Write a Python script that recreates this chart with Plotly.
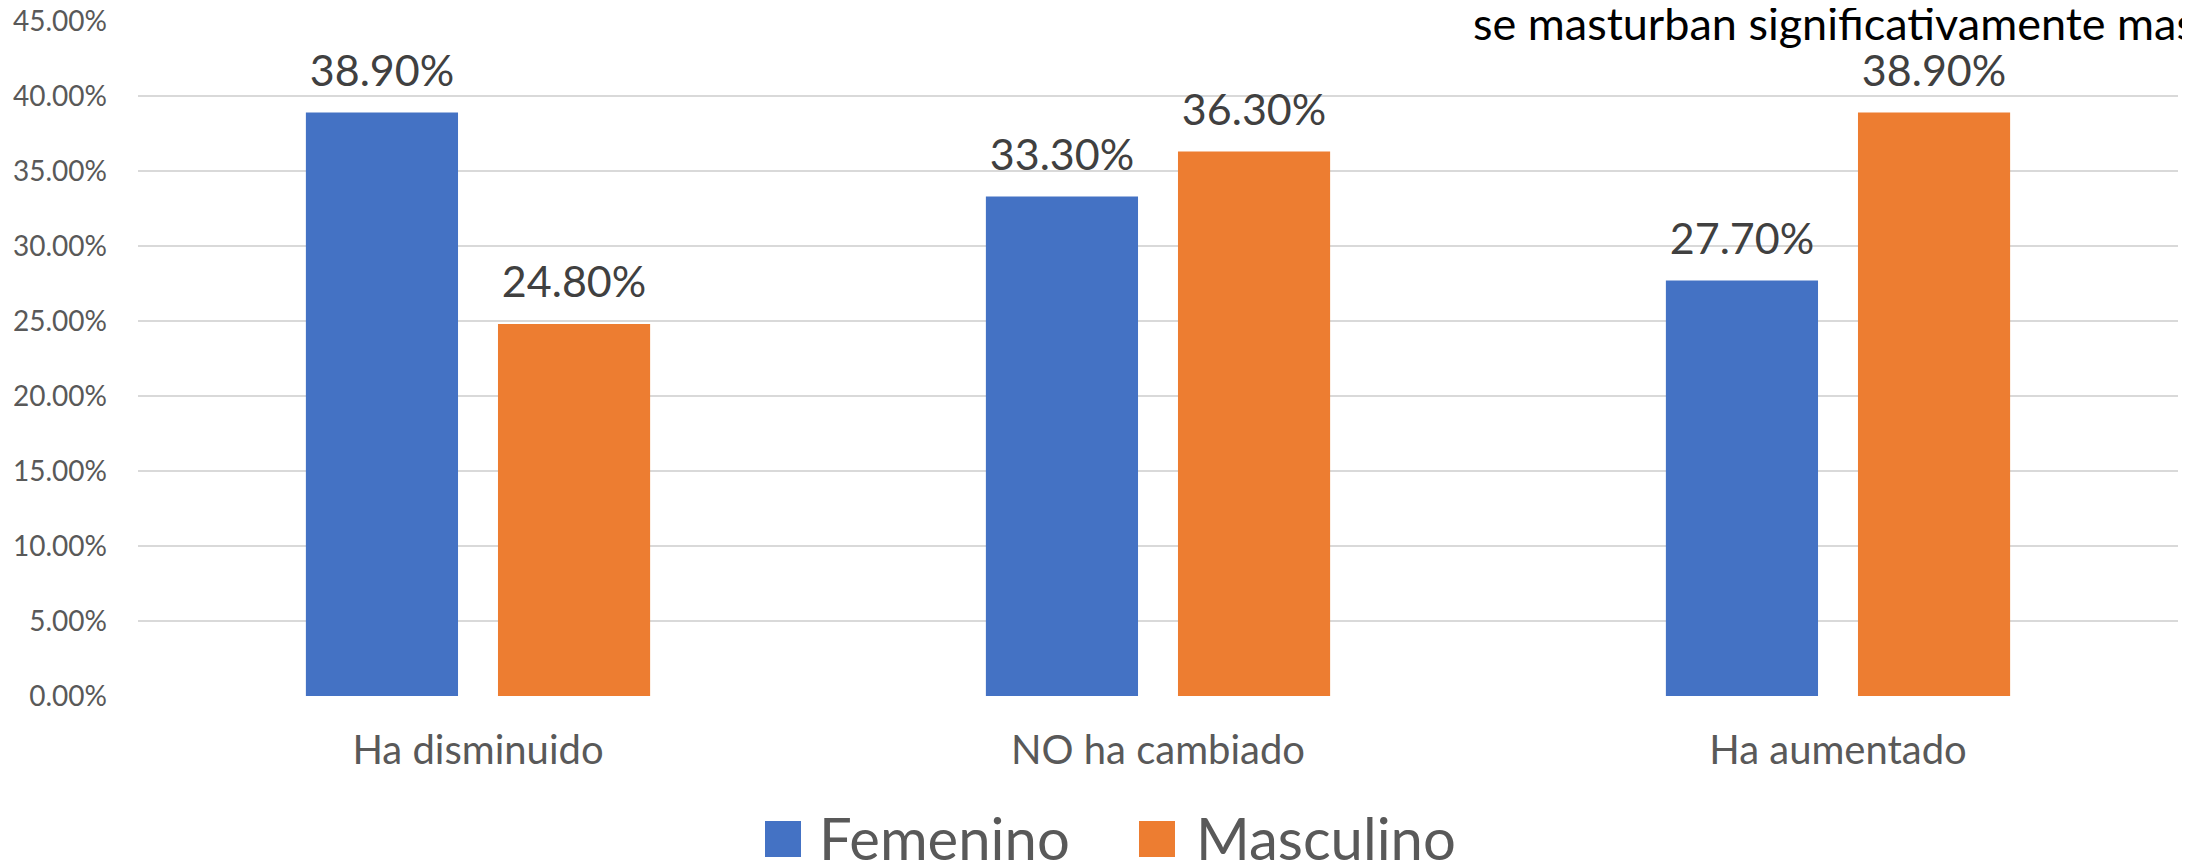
import plotly.graph_objects as go

categories = ["Ha disminuido", "NO ha cambiado", "Ha aumentado"]
femenino = [0.389, 0.333, 0.277]
masculino = [0.248, 0.363, 0.389]
series_names = ["Femenino", "Masculino"]
series_colors = ["#4472C4", "#ED7D31"]
title_text = "se masturban significativamente mas"

# the page body has an 8px margin; size the figure to compensate
OFF = 8
W, H = 2190 - OFF, 865 - OFF
ML, MR, MT, MB = 138 - OFF, 12, 21 - OFF, 169
PW, PH = W - ML - MR, H - MT - MB

FONT = "Lato"
BARGAP = 0.435
GROUPGAP = 0.208

fig = go.Figure()
for name, vals, col in zip(series_names, [femenino, masculino], series_colors):
    fig.add_trace(go.Bar(
        x=categories, y=vals, name=name,
        marker=dict(color=col, line=dict(width=0)),
        showlegend=False,
    ))
# data labels, grouped like the bars
for name, vals in zip(series_names, [femenino, masculino]):
    fig.add_trace(go.Scatter(
        x=categories, y=vals, mode="markers+text",
        text=[f"{v*100:.2f}%" for v in vals],
        textposition="top center",
        textfont=dict(family=FONT, size=43, color="#404040"),
        marker=dict(size=24, opacity=0),
        showlegend=False, hoverinfo="skip", cliponaxis=False,
    ))

# helpers: page pixel -> paper fraction
def px_x(x):
    return (x - OFF - ML) / PW

def px_y(y):
    return (H - MB - (y - OFF)) / PH

shapes = []
annotations = []
legend_items = [(765, 817), (1139, 1194)]
for (sx, tx), name, col in zip(legend_items, series_names, series_colors):
    shapes.append(dict(type="rect", xref="paper", yref="paper",
                       x0=px_x(sx), x1=px_x(sx + 36), y0=px_y(857), y1=px_y(821),
                       fillcolor=col, line=dict(width=0)))
    annotations.append(dict(text=name, xref="paper", yref="paper",
                            x=px_x(tx), y=px_y(837), xanchor="left", yanchor="middle",
                            showarrow=False, font=dict(family=FONT, size=58, color="#595959")))

annotations.append(dict(text=title_text, xref="paper", yref="paper",
                        x=px_x(1471), y=px_y(23), xanchor="left", yanchor="middle",
                        showarrow=False, font=dict(family=FONT, size=45, color="#000000")))

fig.update_layout(
    width=W, height=H, autosize=False,
    margin=dict(l=ML, r=MR, t=MT, b=MB, pad=0, autoexpand=False),
    paper_bgcolor="white", plot_bgcolor="white",
    barmode="group", bargap=BARGAP, bargroupgap=GROUPGAP,
    scattermode="group", scattergap=BARGAP,
    shapes=shapes, annotations=annotations,
    showlegend=False,
    xaxis=dict(
        type="category", showgrid=False, zeroline=False, showline=False,
        tickfont=dict(family=FONT, size=40, color="#595959"),
        ticks="", ticklabelstandoff=27, automargin=False,
    ),
    yaxis=dict(
        range=[0, 0.45], dtick=0.05, tick0=0, tickformat=".2%",
        showgrid=True, gridcolor="#d9d9d9", gridwidth=2,
        zeroline=False, showline=False, ticks="",
        tickfont=dict(family=FONT, size=28, color="#595959"),
        ticklabelstandoff=30, ticklabeloverflow="allow", automargin=False,
    ),
)

fig.write_html("out.html")
